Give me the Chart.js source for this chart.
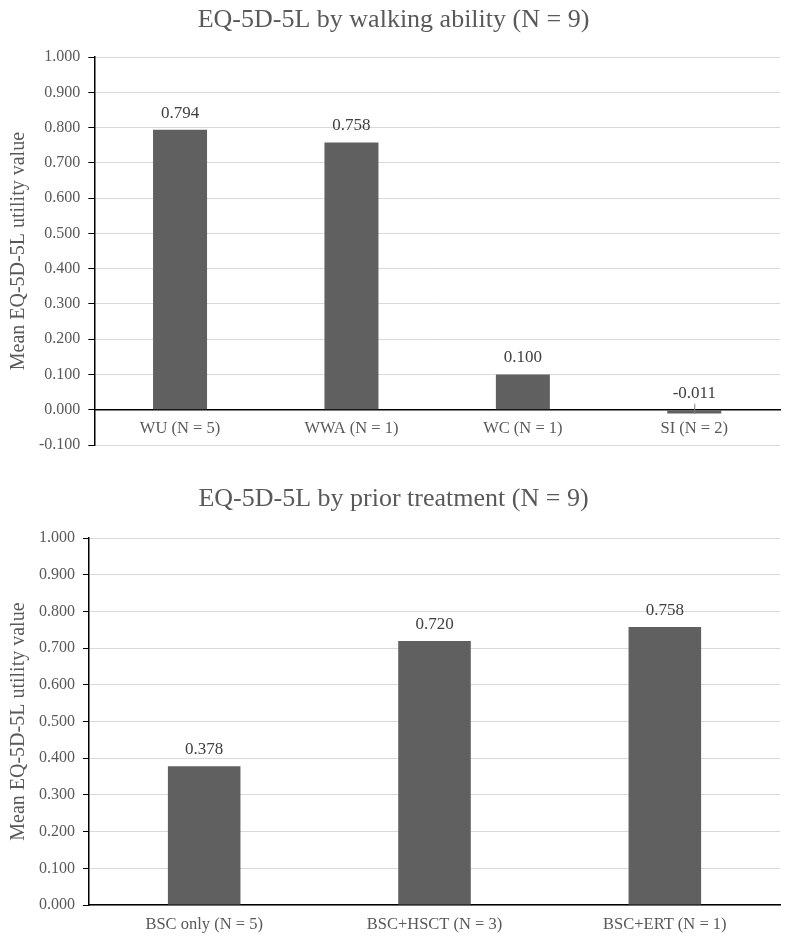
<!DOCTYPE html>
<html>
<head>
<meta charset="utf-8">
<script src="https://cdn.jsdelivr.net/npm/chart.js@4/dist/chart.umd.min.js"></script>
<style>
  html, body { margin: 0; padding: 0; background: #fff; overflow: hidden; }
  #w1 { position: absolute; left: 0; top: 0; width: 789px; height: 466px; }
  #w2 { position: absolute; left: 0; top: 470px; width: 789px; height: 469px; }
</style>
</head>
<body>
<div id="w1"><canvas id="c1"></canvas></div>
<div id="w2"><canvas id="c2"></canvas></div>
<script>
const walkingCategories = ['WU (N = 5)', 'WWA (N = 1)', 'WC (N = 1)', 'SI (N = 2)'];
const walkingValues = [0.794, 0.758, 0.100, -0.011];
const treatmentCategories = ['BSC only (N = 5)', 'BSC+HSCT (N = 3)', 'BSC+ERT (N = 1)'];
const treatmentValues = [0.378, 0.720, 0.758];
const walkingTitle = 'EQ-5D-5L by walking ability (N = 9)';
const treatmentTitle = 'EQ-5D-5L by prior treatment (N = 9)';
const yAxisTitle = 'Mean EQ-5D-5L utility value';

const FONT = "'Liberation Serif', 'Times New Roman', serif";
const TXT = '#595959';
const BAR = '#606060';

const labelPlugin = {
  id: 'valLabels',
  afterDatasetsDraw(chart) {
    const ctx = chart.ctx;
    const meta = chart.getDatasetMeta(0);
    const ys = chart.scales.y;
    const zero = ys.getPixelForValue(0);
    ctx.save();
    ctx.font = '17px ' + FONT;
    ctx.fillStyle = '#404040';
    ctx.textAlign = 'center';
    ctx.textBaseline = 'bottom';
    meta.data.forEach((bar, i) => {
      const v = chart.data.datasets[0].data[i];
      const top = Math.min(bar.y, zero);
      ctx.fillText(v.toFixed(3), bar.x, top - 8);
      if (v < 0) {
        ctx.strokeStyle = '#808080';
        ctx.lineWidth = 1;
        ctx.beginPath();
        ctx.moveTo(bar.x + 0.5, top - 6);
        ctx.lineTo(bar.x + 0.5, bar.y);
        ctx.stroke();
      }
    });
    ctx.restore();
  }
};

function makeChart(id, cats, vals, title, ymin, xAtZero, pad, titlePad, xHeight, xPad) {
  const xScale = {
    position: xAtZero ? { y: 0 } : 'bottom',
    grid: { display: false, drawTicks: false },
    border: { display: true, color: '#000', width: 1.5 },
    ticks: { color: TXT, font: { family: FONT, size: 16.5 }, padding: xPad }
  };
  if (xHeight) xScale.afterFit = s => { s.height = xHeight; };
  return new Chart(document.getElementById(id), {
    type: 'bar',
    data: {
      labels: cats,
      datasets: [{ data: vals, backgroundColor: BAR, barPercentage: 0.315, categoryPercentage: 1.0 }]
    },
    options: {
      responsive: true,
      maintainAspectRatio: false,
      animation: false,
      layout: { padding: pad },
      plugins: {
        legend: { display: false },
        tooltip: { enabled: false },
        title: {
          display: true, text: title, color: TXT,
          font: { family: FONT, size: 26, weight: 'normal' },
          padding: titlePad
        }
      },
      scales: {
        x: xScale,
        y: {
          min: ymin, max: 1.0,
          grid: { color: '#d9d9d9', lineWidth: 1, tickLength: 6, tickColor: '#000' },
          border: { display: true, color: '#000', width: 1.5 },
          ticks: {
            stepSize: 0.1, color: TXT, padding: 8,
            font: { family: FONT, size: 16 },
            callback: v => Number(v).toFixed(3)
          },
          title: {
            display: true, text: yAxisTitle, color: TXT,
            font: { family: FONT, size: 20 }, padding: { top: 0, bottom: 0 }
          }
        }
      }
    },
    plugins: [labelPlugin]
  });
}

makeChart('c1', walkingCategories, walkingValues, walkingTitle, -0.1, true,
  { left: 7, right: 9, top: 0, bottom: 21 }, { top: 5, bottom: 21 }, 0, 9);
makeChart('c2', treatmentCategories, treatmentValues, treatmentTitle, 0, false,
  { left: 7, right: 9, top: 0, bottom: 0 }, { top: 14, bottom: 23 }, 34, 10);
</script>
</body>
</html>
